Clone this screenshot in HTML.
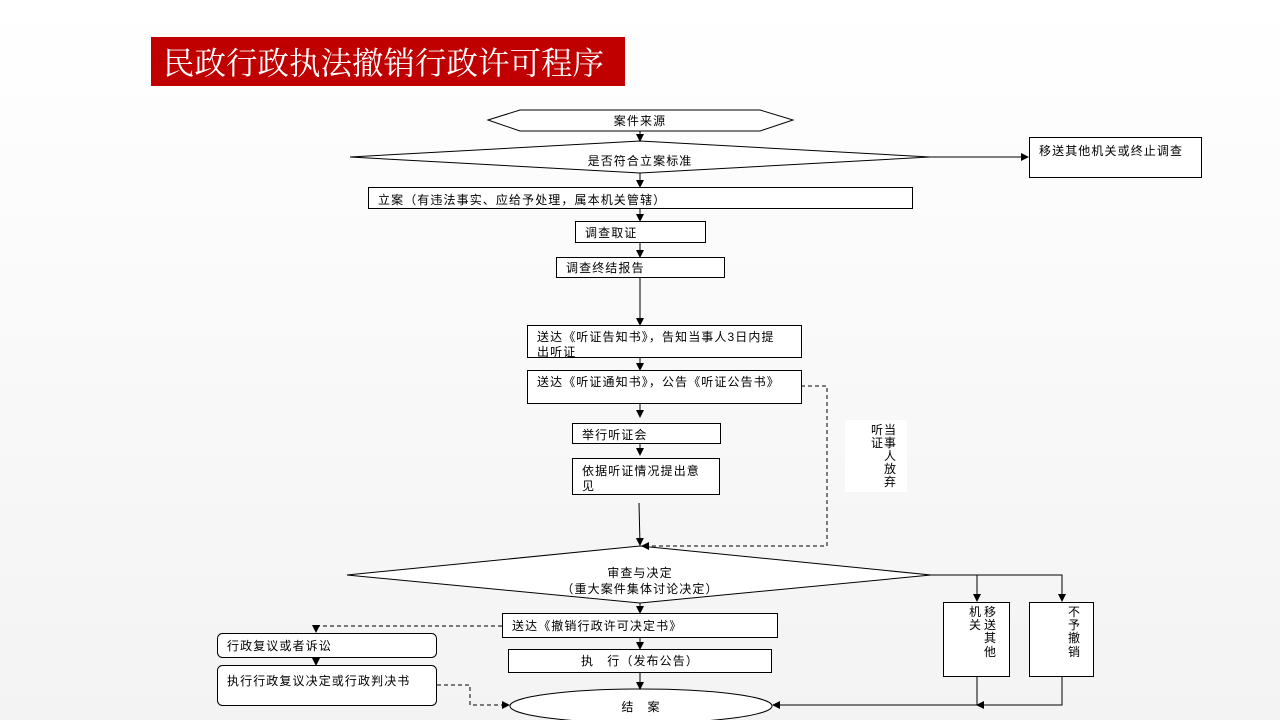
<!DOCTYPE html>
<html><head><meta charset="utf-8"><style>
body{margin:0;width:1280px;height:720px;overflow:hidden;background:linear-gradient(#ffffff,#f3f3f3);}
svg text{font-family:"Liberation Sans","Noto Sans CJK SC",sans-serif;font-size:12px;fill:#000;letter-spacing:1.1px;}
</style></head><body>
<svg width="1280" height="720" xmlns="http://www.w3.org/2000/svg">
<defs>
<marker id="a" markerWidth="8" markerHeight="8" refX="7" refY="4" orient="auto" markerUnits="userSpaceOnUse"><path d="M0,0 L8,4 L0,8 z" fill="#000"/></marker>
</defs>
<rect x="151" y="37" width="474" height="49" fill="#c00000"/>
<text x="163" y="74" style="font-family:'Noto Serif CJK SC',serif;font-size:31.5px;fill:#fff;letter-spacing:0">民政行政执法撤销行政许可程序</text>
<g fill="#fff" stroke="#000" stroke-width="1">
<polygon points="488,120 520,110 760,110 793,120 760,131 520,131"/>
<polygon points="350,157 640,141 930,157 640,173"/>
<rect x="1029.5" y="137.5" width="172" height="40"/>
<rect x="368.5" y="187.5" width="544" height="21"/>
<rect x="575.5" y="221.5" width="130" height="21"/>
<rect x="556.5" y="257.5" width="168" height="20"/>
<rect x="527.5" y="325.5" width="274" height="32"/>
<rect x="527.5" y="370.5" width="274" height="33"/>
<rect x="572.5" y="423.5" width="148" height="20"/>
<rect x="572.5" y="458.5" width="147" height="36"/>
<polygon points="347,575 640,546 931,575 640,603"/>
<rect x="943.5" y="602.5" width="66" height="74"/>
<rect x="1029.5" y="602.5" width="64" height="74"/>
<rect x="502.5" y="613.5" width="275" height="24"/>
<rect x="508.5" y="649.5" width="263" height="23"/>
<ellipse cx="641" cy="706" rx="131" ry="17"/>
<rect x="217.5" y="633.5" width="219" height="24" rx="5"/>
<rect x="217.5" y="665.5" width="219" height="40" rx="5"/>
</g>
<rect x="845" y="420" width="62" height="72" fill="#fff"/>
<g stroke="#000" stroke-width="1" fill="none" marker-end="url(#a)">
<line x1="640" y1="131" x2="640" y2="141"/>
<line x1="930" y1="157" x2="1028" y2="157"/>
<line x1="640" y1="173" x2="640" y2="187"/>
<line x1="640" y1="208" x2="640" y2="221"/>
<line x1="640" y1="242" x2="640" y2="257"/>
<line x1="640" y1="278" x2="640" y2="325"/>
<line x1="640" y1="358" x2="640" y2="370"/>
<line x1="640" y1="404" x2="640" y2="417"/>
<line x1="640" y1="444" x2="640" y2="455"/>
<line x1="639" y1="503" x2="640" y2="545"/>
<line x1="640" y1="603" x2="640" y2="613"/>
<line x1="640" y1="638" x2="640" y2="649"/>
<line x1="640" y1="673" x2="640" y2="689"/>
<line x1="316" y1="657" x2="316" y2="665"/>
<polyline points="931,575 977,575 977,601"/>
<polyline points="977,575 1062,575 1062,601"/>
<polyline points="977,677 977,705 773,705"/>
<polyline points="1062,677 1062,705 977,705"/>
</g>
<g stroke="#000" stroke-width="1" fill="none" stroke-dasharray="4,3" marker-end="url(#a)">
<polyline points="801,386 827,386 827,546 642,546"/>
<polyline points="502,626 316,626 316,632"/>
<polyline points="437,685 470,685 470,705 509,705"/>
</g>
<text x="640" y="125" text-anchor="middle">案件来源</text>
<text x="640" y="165" text-anchor="middle">是否符合立案标准</text>
<text x="1039" y="155">移送其他机关或终止调查</text>
<text x="378" y="204">立案（有违法事实、应给予处理，属本机关管辖）</text>
<text x="585" y="237">调查取证</text>
<text x="566" y="272">调查终结报告</text>
<text x="537" y="341">送达《听证告知书》，告知当事人3日内提</text>
<text x="537" y="356">出听证</text>
<text x="537" y="386">送达《听证通知书》，公告《听证公告书》</text>
<text x="582" y="439">举行听证会</text>
<text x="582" y="475">依据听证情况提出意</text>
<text x="582" y="490">见</text>
<g font-size="12">
<text x="884" y="434">当</text><text x="884" y="447">事</text><text x="884" y="460">人</text><text x="884" y="473">放</text><text x="884" y="486">弃</text>
<text x="871" y="434">听</text><text x="871" y="447">证</text>
<text x="984" y="616">移</text><text x="984" y="629">送</text><text x="984" y="642">其</text><text x="984" y="656">他</text>
<text x="969" y="616">机</text><text x="969" y="629">关</text>
<text x="1068" y="616">不</text><text x="1068" y="629">予</text><text x="1068" y="642">撤</text><text x="1068" y="656">销</text>
</g>
<text x="640" y="577" text-anchor="middle">审查与决定</text>
<text x="640" y="593" text-anchor="middle">（重大案件集体讨论决定）</text>
<text x="512" y="630">送达《撤销行政许可决定书》</text>
<text x="640" y="665" text-anchor="middle">执　行（发布公告）</text>
<text x="641" y="711" text-anchor="middle">结　案</text>
<text x="227" y="650">行政复议或者诉讼</text>
<text x="227" y="685">执行行政复议决定或行政判决书</text>
</svg>
</body></html>
